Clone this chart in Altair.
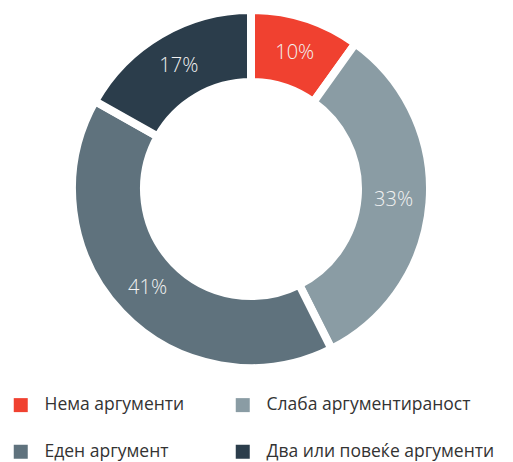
import altair as alt
import pandas as pd

categories = ["Нема аргументи", "Слаба аргументираност", "Еден аргумент", "Два или повеќе аргументи"]
values = [10, 33, 41, 17]
labels = ["10%", "33%", "41%", "17%"]
colors = ["#f04130", "#8a9ca4", "#5f727d", "#2b3d4b"]

df = pd.DataFrame({"cat": categories, "value": values, "label": labels, "order": list(range(len(values)))})

CX, CY = 243, 181

color = alt.Color(
    "cat:N",
    scale=alt.Scale(domain=categories, range=colors),
    sort=categories,
    legend=alt.Legend(
        title=None,
        orient="none",
        direction="horizontal",
        legendX=4,
        legendY=388,
        columns=2,
        padding=0,
        symbolType="square",
        symbolSize=196,
        symbolStrokeWidth=0,
        labelFontSize=17.5,
        labelFont="Open Sans",
        labelColor="#333333",
        labelOffset=15,
        columnPadding=49,
        rowPadding=28,
        labelLimit=400,
    ),
)

base = alt.Chart(df).encode(
    theta=alt.Theta("value:Q", stack=True),
    order=alt.Order("order:Q"),
)

arcs = base.mark_arc(innerRadius=107, outerRadius=179, stroke="white", strokeWidth=8).encode(
    color=color,
    x=alt.value(CX),
    y=alt.value(CY),
)

text = base.mark_text(radius=143, fontSize=20, font="Open Sans", fontWeight=300, color="#f2f2f2").encode(
    text="label:N",
    x=alt.value(CX),
    y=alt.value(CY),
)

chart = (arcs + text).properties(
    width=497, height=454, padding=0, autosize=alt.AutoSizeParams(type="none")
).configure_view(stroke=None)

chart.save("out.html", embed_options={"renderer": "svg", "actions": False})
